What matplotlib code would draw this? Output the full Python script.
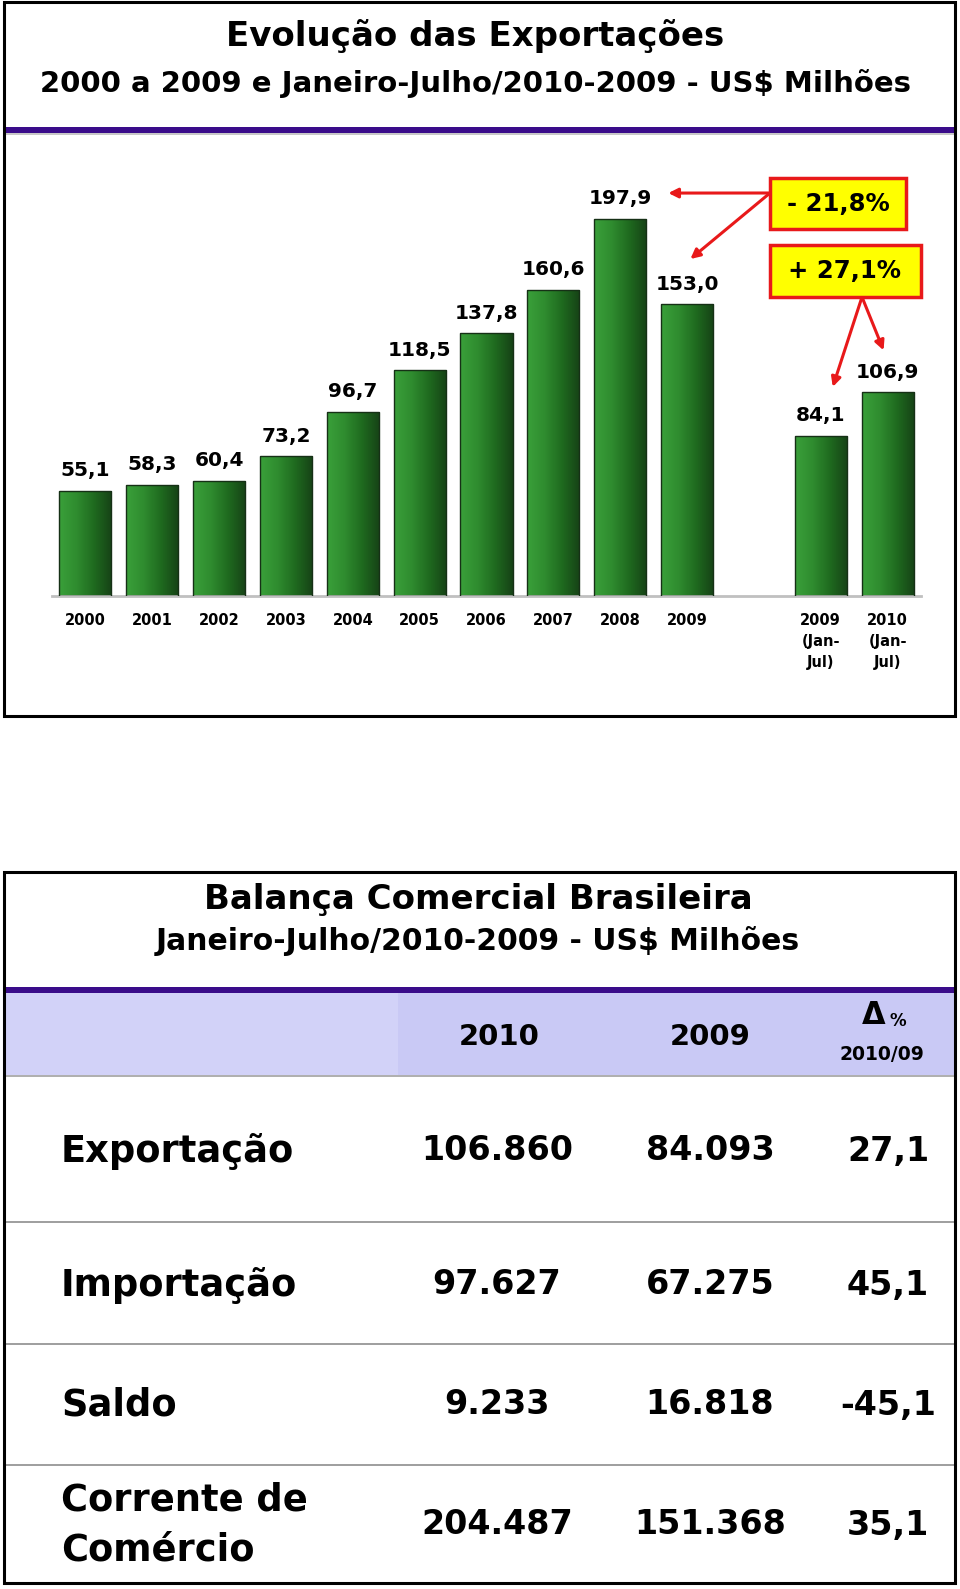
import numpy as np
import matplotlib
matplotlib.use('Agg')
import matplotlib.pyplot as plt
from matplotlib.patches import Rectangle
from matplotlib.colors import LinearSegmentedColormap

plt.rcParams['font.family'] = ['DejaVu Sans']

# dados do gráfico de barras
categorias = ['2000', '2001', '2002', '2003', '2004', '2005', '2006', '2007',
              '2008', '2009', '2009\n(Jan-\nJul)', '2010\n(Jan-\nJul)']
exportacoes = [55.1, 58.3, 60.4, 73.2, 96.7, 118.5, 137.8, 160.6, 197.9, 153.0, 84.1, 106.9]
posicoes = list(range(10)) + [11, 12]
var_anual = '- 21,8%'
var_jan_jul = '+ 27,1%'

# dados da tabela
linhas = ['Exportação', 'Importação', 'Saldo', 'Corrente de\nComércio']
col_2010 = ['106.860', '97.627', '9.233', '204.487']
col_2009 = ['84.093', '67.275', '16.818', '151.368']
col_var = ['27,1', '45,1', '-45,1', '35,1']

W, H = 960, 1589
fig = plt.figure(figsize=(W / 100, H / 100), dpi=100)


def fx(x):
    return x / W


def fy(y):
    return 1 - y / H


def caixa(x0, y0, x1, y1, **kw):
    r = Rectangle((fx(x0), fy(y1)), fx(x1) - fx(x0), (y1 - y0) / H,
                  transform=fig.transFigure, **kw)
    fig.add_artist(r)
    return r


def texto(x, y, s, **kw):
    kw.setdefault('ha', 'center')
    kw.setdefault('va', 'center')
    kw.setdefault('fontweight', 'bold')
    kw.setdefault('zorder', 8)
    return fig.text(fx(x), fy(y), s, **kw)


# ---------- painel superior ----------
caixa(4, 2, 955, 716, fill=False, ec='black', lw=2.2, zorder=10)
caixa(5, 127, 954, 133, fc='#3a0c8a', ec='none', zorder=5)
caixa(5, 133, 954, 135, fc='#c8c8c8', ec='none', zorder=5)
texto(475, 36, 'Evolução das Exportações', fontsize=24.5)
texto(475, 83, '2000 a 2009 e Janeiro-Julho/2010-2009 - US$ Milhões', fontsize=21)

ax = fig.add_axes([fx(52), fy(596), (921 - 52) / W, (596 - 170) / H])

cmap = LinearSegmentedColormap.from_list('verde', ['#3aa03a', '#2f8c2f', '#1f6a1f', '#164216'])
grad = np.linspace(0, 1, 256).reshape(1, -1)
bars = ax.bar(posicoes, exportacoes, width=0.78, facecolor='none',
              edgecolor='#163016', linewidth=1.0, zorder=3)
for b in bars:
    x0, w, h = b.get_x(), b.get_width(), b.get_height()
    im = ax.imshow(grad, cmap=cmap, extent=[x0, x0 + w, 0, h], aspect='auto', zorder=2)
    im.set_clip_path(b)
ax.set_xlim(-0.5, 12.5)
ax.set_ylim(0, 223.5)

for p, v in zip(posicoes, exportacoes):
    ax.annotate(f'{v:.1f}'.replace('.', ','), (p, v), xytext=(0, 20),
                textcoords='offset pixels', ha='center', va='center',
                fontsize=14.5, fontweight='bold')

for s in ['top', 'left', 'right']:
    ax.spines[s].set_visible(False)
ax.spines['bottom'].set_color('#c0c0c0')
ax.spines['bottom'].set_linewidth(2)
ax.set_yticks([])
ax.set_xticks(posicoes)
ax.set_xticklabels(categorias, fontsize=10.5, fontweight='bold', linespacing=1.5, va='top')
ax.tick_params(axis='x', length=0, pad=12.5)

# caixas de variação
vermelho = '#e8191a'
caixa(770, 178, 906, 229, fc='#ffff00', ec=vermelho, lw=2.5, zorder=6)
caixa(770, 245, 921, 297, fc='#ffff00', ec=vermelho, lw=2.5, zorder=6)
texto(838, 204, var_anual, fontsize=17.5)
texto(845, 271, var_jan_jul, fontsize=17.5)

seta = dict(arrowstyle='-|>', color=vermelho, lw=2.2, mutation_scale=14,
            shrinkA=0, shrinkB=0)
ax.annotate('', xy=(8 + 0.72, exportacoes[8] + 13.5), xytext=(770, H - 193),
            textcoords='figure pixels', arrowprops=seta, annotation_clip=False)
ax.annotate('', xy=(9 + 0.05, exportacoes[9] + 23.8), xytext=(770, H - 193),
            textcoords='figure pixels', arrowprops=seta, annotation_clip=False)
ax.annotate('', xy=(11 + 0.18, exportacoes[10] + 25.6), xytext=(862, H - 297),
            textcoords='figure pixels', arrowprops=seta, annotation_clip=False)
ax.annotate('', xy=(12 - 0.06, exportacoes[11] + 22.0), xytext=(862, H - 297),
            textcoords='figure pixels', arrowprops=seta, annotation_clip=False)

# ---------- painel inferior (tabela) ----------
caixa(4, 872, 955, 1583, fill=False, ec='black', lw=2.2, zorder=10)
texto(478, 899, 'Balança Comercial Brasileira', fontsize=24.5)
texto(478, 941, 'Janeiro-Julho/2010-2009 - US$ Milhões', fontsize=21.5)
caixa(5, 987, 954, 993, fc='#3a0c8a', ec='none', zorder=5)
caixa(5, 993, 398, 1075, fc='#d2d2f8', ec='none', zorder=4)
caixa(398, 993, 954, 1075, fc='#c9c9f5', ec='none', zorder=4)
caixa(5, 1075, 954, 1077, fc='#b0b0b0', ec='none', zorder=4)

texto(499, 1037, '2010', fontsize=21)
texto(710, 1037, '2009', fontsize=21)
texto(874, 1016, 'Δ', fontsize=22)
texto(898, 1021, '%', fontsize=12)
texto(882, 1054, '2010/09', fontsize=13.5)

y_linhas = [1151, 1285, 1405, 1525]
for y in [1222, 1344, 1465]:
    caixa(5, y - 1, 954, y + 1, fc='#a0a0a0', ec='none', zorder=4)

for y, nome, a, b, v in zip(y_linhas, linhas, col_2010, col_2009, col_var):
    texto(61, y, nome, ha='left', fontsize=26.5, linespacing=1.45)
    texto(497, y, a, fontsize=24)
    texto(710, y, b, fontsize=24)
    texto(888, y, v, fontsize=24)

fig.savefig('out.png', dpi=100)
